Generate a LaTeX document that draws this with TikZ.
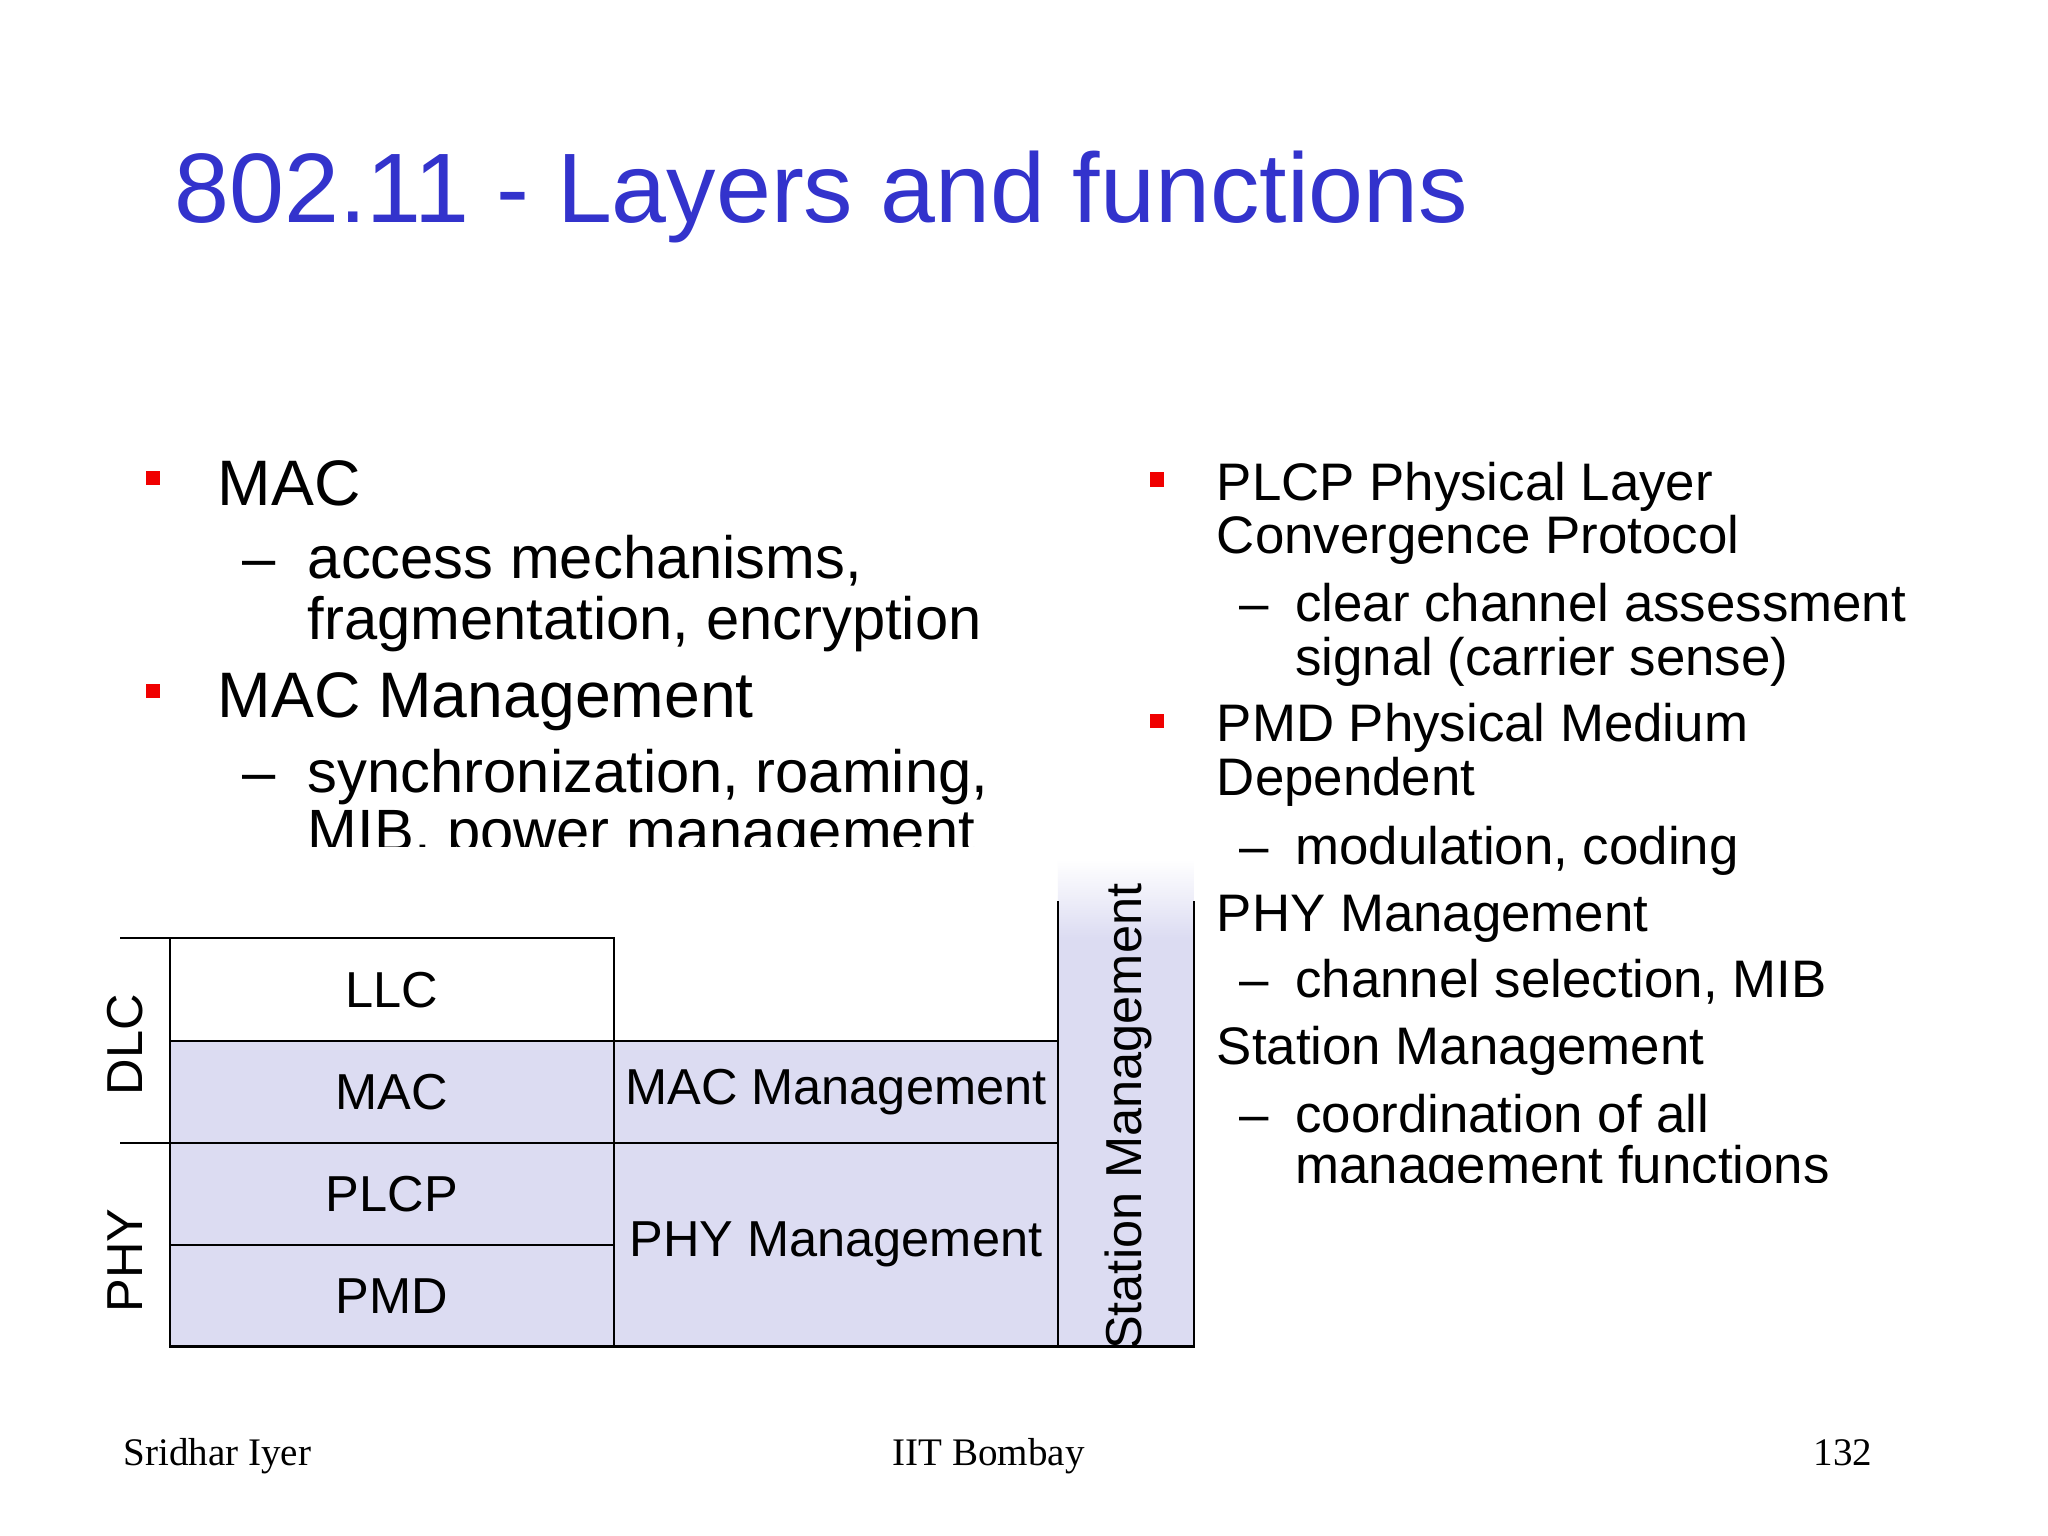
\documentclass[tikz,border=0pt]{standalone}
\usepackage{fontspec}
\setmainfont{Liberation Sans}
\newfontfamily\footfont{Liberation Serif}
\definecolor{titleblue}{RGB}{51,51,204}
\definecolor{lav}{RGB}{220,220,242}
\definecolor{bred}{RGB}{240,0,0}
\begin{document}
\begin{tikzpicture}[x=0.01cm,y=-0.01cm,
  big/.style={anchor=base west,inner sep=0,font=\fontsize{14}{16}\selectfont},
  sub/.style={anchor=base west,inner sep=0,font=\fontsize{13}{15}\selectfont},
  rt/.style={anchor=base west,inner sep=0,font=\fontsize{11.5}{13}\selectfont},
  bul/.style={fill=bred,minimum size=0.11cm,inner sep=0},
  cell/.style={draw=black,line width=0.5pt},
  lab/.style={font=\fontsize{11}{13}\selectfont,inner sep=0},
  foot/.style={font=\footfont\fontsize{8.5}{10}\selectfont,inner sep=0,anchor=base}]
\useasboundingbox (0,0) rectangle (1568,1176);
\fill[white] (0,0) rectangle (1568,1176);
% title
\node[anchor=base west,inner sep=0,text=titleblue,font=\fontsize{21.5}{24}\selectfont] (title) at (133,170) {802.11 - Layers and functions};
% left column (clipped)
\begin{scope}
\clip (100,330) rectangle (800,648);
\node[bul] (b1) at (117,366) {};
\node[big] (t1) at (166,387) {MAC};
\node[sub] (d1) at (185,443) {--};
\node[sub] (t2) at (235,443) {access mechanisms,};
\node[sub] (t3) at (235,490) {fragmentation, encryption};
\node[bul] (b2) at (117,529) {};
\node[big] (t4) at (166,549) {MAC Management};
\node[sub] (d2) at (185,607) {--};
\node[sub] (t5) at (235,607) {synchronization, roaming,};
\node[sub] (t6) at (235,652) {MIB, power management};
\end{scope}
% right column
\begin{scope}
\clip (860,330) rectangle (1560,905);
\node[bul] (b3) at (886,367) {};
\node[rt] (r1) at (931,383) {PLCP Physical Layer};
\node[rt] (r2) at (931,424) {Convergence Protocol};
\node[rt] (rd1) at (948,476) {--};
\node[rt] (r3) at (991,476) {clear channel assessment};
\node[rt] (r4) at (991,517) {signal (carrier sense)};
\node[bul] (b4) at (886,552) {};
\node[rt] (r5) at (931,568) {PMD Physical Medium};
\node[rt] (r6) at (931,609) {Dependent};
\node[rt] (rd2) at (948,662) {--};
\node[rt] (r7) at (991,662) {modulation, coding};
\node[rt] (r8) at (931,713) {PHY Management};
\node[rt] (rd3) at (948,764) {--};
\node[rt] (r9) at (991,764) {channel selection, MIB};
\node[rt] (r10) at (931,815) {Station Management};
\node[rt] (rd4) at (948,867) {--};
\node[rt] (r11) at (991,867) {coordination of all};
\node[rt] (r12) at (991,906) {management functions};
\end{scope}
% table
\fill[lav] (130,797) rectangle (810,1031);
\fill[lav] (810,718) rectangle (914,1031);
\shade[top color=white,bottom color=lav] (810,658) rectangle (914,718);
\draw[cell] (92,718) -- (470,718);
\draw[cell] (130,718) rectangle (470,797);
\draw[cell] (130,797) rectangle (470,875);
\draw[cell] (130,875) rectangle (470,953);
\draw[cell] (130,953) rectangle (470,1031);
\draw[cell] (470,797) rectangle (810,875);
\draw[cell] (470,875) rectangle (810,1031);
\draw[cell] (810,690) -- (810,1031) -- (914,1031) -- (914,690);
\draw[cell] (92,875) -- (130,875);
\node[lab] (llc) at (300,758) {LLC};
\node[lab] (mac) at (300,836) {MAC};
\node[lab] (plcp) at (300,914) {PLCP};
\node[lab] (pmd) at (300,992) {PMD};
\node[lab] (macm) at (640,836) {MAC Management};
\node[lab] (phym) at (640,953) {PHY Management};
\node[lab,rotate=90] (stm) at (864,855) {Station Management};
\node[lab,rotate=90] (dlc) at (96,800) {DLC};
\node[lab,rotate=90] (phy) at (96,965) {PHY};
% footer
\node[foot,anchor=base west] (f1) at (94,1122) {Sridhar Iyer};
\node[foot] (f2) at (757,1122) {IIT Bombay};
\node[foot,anchor=base east] (f3) at (1434,1122) {132};
\end{tikzpicture}
\end{document}
